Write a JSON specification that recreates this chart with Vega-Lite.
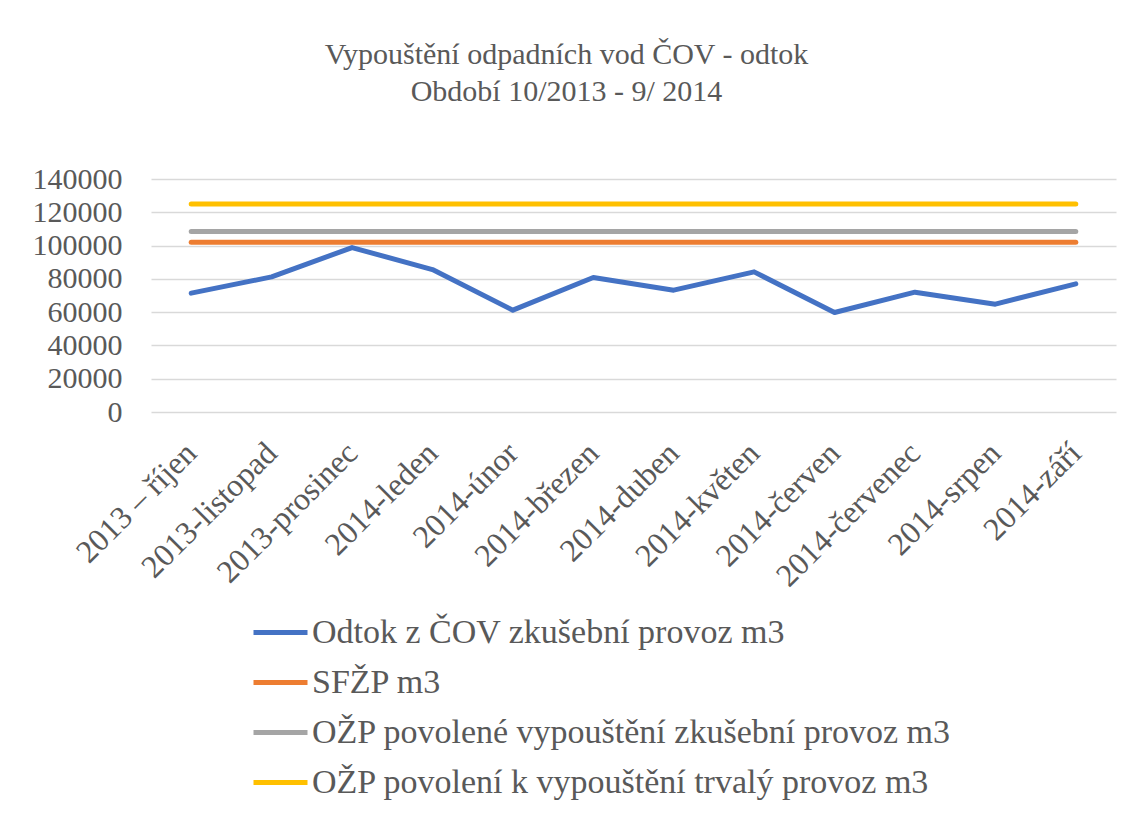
{
  "$schema": "https://vega.github.io/schema/vega-lite/v6.json",
  "autosize": {"type": "none"},
  "width": 965,
  "height": 233,
  "padding": {"left": 151, "top": 179, "right": 15, "bottom": 404},
  "background": "white",
  "config": {"view": {"stroke": null}},
  "title": {
    "text": ["Vypouštění odpadních vod ČOV - odtok", "Období 10/2013 - 9/ 2014"],
    "font": "Liberation Serif",
    "fontSize": 30,
    "fontWeight": "normal",
    "color": "#595959",
    "lineHeight": 37,
    "anchor": "middle",
    "dx": -67,
    "offset": 57
  },
  "data": {
    "values": [
      {"mesic": "2013 – říjen", "serie": "Odtok z ČOV zkušební provoz m3", "hodnota": 71400},
      {"mesic": "2013-listopad", "serie": "Odtok z ČOV zkušební provoz m3", "hodnota": 81200},
      {"mesic": "2013-prosinec", "serie": "Odtok z ČOV zkušební provoz m3", "hodnota": 98800},
      {"mesic": "2014-leden", "serie": "Odtok z ČOV zkušební provoz m3", "hodnota": 85600},
      {"mesic": "2014-únor", "serie": "Odtok z ČOV zkušební provoz m3", "hodnota": 61200},
      {"mesic": "2014-březen", "serie": "Odtok z ČOV zkušební provoz m3", "hodnota": 80800},
      {"mesic": "2014-duben", "serie": "Odtok z ČOV zkušební provoz m3", "hodnota": 73200},
      {"mesic": "2014-květen", "serie": "Odtok z ČOV zkušební provoz m3", "hodnota": 84200},
      {"mesic": "2014-červen", "serie": "Odtok z ČOV zkušební provoz m3", "hodnota": 59800},
      {"mesic": "2014-červenec", "serie": "Odtok z ČOV zkušební provoz m3", "hodnota": 72000},
      {"mesic": "2014-srpen", "serie": "Odtok z ČOV zkušební provoz m3", "hodnota": 64800},
      {"mesic": "2014-září", "serie": "Odtok z ČOV zkušební provoz m3", "hodnota": 77000},
      {"mesic": "2013 – říjen", "serie": "SFŽP m3", "hodnota": 102000},
      {"mesic": "2013-listopad", "serie": "SFŽP m3", "hodnota": 102000},
      {"mesic": "2013-prosinec", "serie": "SFŽP m3", "hodnota": 102000},
      {"mesic": "2014-leden", "serie": "SFŽP m3", "hodnota": 102000},
      {"mesic": "2014-únor", "serie": "SFŽP m3", "hodnota": 102000},
      {"mesic": "2014-březen", "serie": "SFŽP m3", "hodnota": 102000},
      {"mesic": "2014-duben", "serie": "SFŽP m3", "hodnota": 102000},
      {"mesic": "2014-květen", "serie": "SFŽP m3", "hodnota": 102000},
      {"mesic": "2014-červen", "serie": "SFŽP m3", "hodnota": 102000},
      {"mesic": "2014-červenec", "serie": "SFŽP m3", "hodnota": 102000},
      {"mesic": "2014-srpen", "serie": "SFŽP m3", "hodnota": 102000},
      {"mesic": "2014-září", "serie": "SFŽP m3", "hodnota": 102000},
      {"mesic": "2013 – říjen", "serie": "OŽP povolené vypouštění zkušební provoz m3", "hodnota": 108400},
      {"mesic": "2013-listopad", "serie": "OŽP povolené vypouštění zkušební provoz m3", "hodnota": 108400},
      {"mesic": "2013-prosinec", "serie": "OŽP povolené vypouštění zkušební provoz m3", "hodnota": 108400},
      {"mesic": "2014-leden", "serie": "OŽP povolené vypouštění zkušební provoz m3", "hodnota": 108400},
      {"mesic": "2014-únor", "serie": "OŽP povolené vypouštění zkušební provoz m3", "hodnota": 108400},
      {"mesic": "2014-březen", "serie": "OŽP povolené vypouštění zkušební provoz m3", "hodnota": 108400},
      {"mesic": "2014-duben", "serie": "OŽP povolené vypouštění zkušební provoz m3", "hodnota": 108400},
      {"mesic": "2014-květen", "serie": "OŽP povolené vypouštění zkušební provoz m3", "hodnota": 108400},
      {"mesic": "2014-červen", "serie": "OŽP povolené vypouštění zkušební provoz m3", "hodnota": 108400},
      {"mesic": "2014-červenec", "serie": "OŽP povolené vypouštění zkušební provoz m3", "hodnota": 108400},
      {"mesic": "2014-srpen", "serie": "OŽP povolené vypouštění zkušební provoz m3", "hodnota": 108400},
      {"mesic": "2014-září", "serie": "OŽP povolené vypouštění zkušební provoz m3", "hodnota": 108400},
      {"mesic": "2013 – říjen", "serie": "OŽP povolení k vypouštění trvalý provoz m3", "hodnota": 125000},
      {"mesic": "2013-listopad", "serie": "OŽP povolení k vypouštění trvalý provoz m3", "hodnota": 125000},
      {"mesic": "2013-prosinec", "serie": "OŽP povolení k vypouštění trvalý provoz m3", "hodnota": 125000},
      {"mesic": "2014-leden", "serie": "OŽP povolení k vypouštění trvalý provoz m3", "hodnota": 125000},
      {"mesic": "2014-únor", "serie": "OŽP povolení k vypouštění trvalý provoz m3", "hodnota": 125000},
      {"mesic": "2014-březen", "serie": "OŽP povolení k vypouštění trvalý provoz m3", "hodnota": 125000},
      {"mesic": "2014-duben", "serie": "OŽP povolení k vypouštění trvalý provoz m3", "hodnota": 125000},
      {"mesic": "2014-květen", "serie": "OŽP povolení k vypouštění trvalý provoz m3", "hodnota": 125000},
      {"mesic": "2014-červen", "serie": "OŽP povolení k vypouštění trvalý provoz m3", "hodnota": 125000},
      {"mesic": "2014-červenec", "serie": "OŽP povolení k vypouštění trvalý provoz m3", "hodnota": 125000},
      {"mesic": "2014-srpen", "serie": "OŽP povolení k vypouštění trvalý provoz m3", "hodnota": 125000},
      {"mesic": "2014-září", "serie": "OŽP povolení k vypouštění trvalý provoz m3", "hodnota": 125000}
    ]
  },
  "mark": {"type": "line", "strokeWidth": 5, "strokeCap": "round", "strokeJoin": "round"},
  "encoding": {
    "x": {
      "field": "mesic",
      "type": "nominal",
      "sort": null,
      "scale": {"type": "point", "padding": 0.5},
      "axis": {
        "title": null,
        "labelAngle": -45,
        "labelFont": "Liberation Serif",
        "labelFontSize": 32,
        "labelColor": "#595959",
        "labelPadding": 25,
        "labelOffset": -11,
        "labelLimit": 400,
        "domain": false,
        "ticks": false,
        "grid": false
      }
    },
    "y": {
      "field": "hodnota",
      "type": "quantitative",
      "scale": {"domain": [0, 140000], "nice": false},
      "axis": {
        "title": null,
        "values": [0, 20000, 40000, 60000, 80000, 100000, 120000, 140000],
        "format": "d",
        "labelFont": "Liberation Serif",
        "labelFontSize": 30,
        "labelColor": "#595959",
        "labelPadding": 29,
        "domain": false,
        "ticks": false,
        "grid": true,
        "gridColor": "#D9D9D9",
        "gridWidth": 1.5
      }
    },
    "color": {
      "field": "serie",
      "type": "nominal",
      "scale": {
        "domain": ["Odtok z ČOV zkušební provoz m3", "SFŽP m3", "OŽP povolené vypouštění zkušební provoz m3", "OŽP povolení k vypouštění trvalý provoz m3"],
        "range": ["#4472C4", "#ED7D31", "#A5A5A5", "#FFC000"]
      },
      "legend": {
        "title": null,
        "orient": "none",
        "legendX": 100,
        "legendY": 424,
        "direction": "vertical",
        "symbolType": "stroke",
        "symbolSize": 2916,
        "symbolStrokeWidth": 5,
        "symbolOffset": 0,
        "labelFont": "Liberation Serif",
        "labelFontSize": 34,
        "labelColor": "#595959",
        "labelOffset": 2,
        "labelLimit": 1000,
        "rowPadding": 3
      }
    }
  }
}
